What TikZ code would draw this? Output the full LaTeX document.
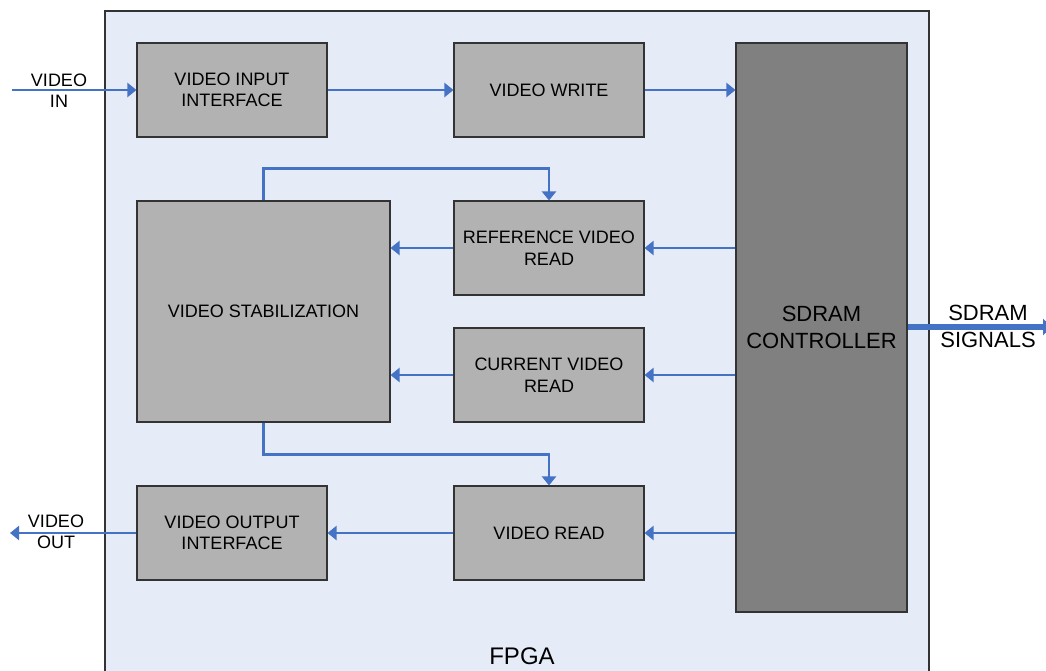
\documentclass[tikz,border=0pt]{standalone}
\usepackage{fontspec}
\setmainfont{Liberation Sans}
\usetikzlibrary{arrows.meta,calc}
\definecolor{fpgafill}{HTML}{E6ECF7}
\definecolor{blockfill}{HTML}{B2B2B2}
\definecolor{ctrlfill}{HTML}{808080}
\definecolor{edgegray}{HTML}{333333}
\definecolor{linkblue}{HTML}{4472C4}
\tikzset{
  block/.style={draw=edgegray, line width=1.1pt, fill=blockfill, minimum width=190pt,
    minimum height=94pt, inner sep=0pt, align=center,
    font=\fontsize{18}{21.5}\selectfont},
  ctrl/.style={block, fill=ctrlfill, minimum width=171pt, minimum height=569pt,
    font=\fontsize{22}{27}\selectfont},
  link/.style={draw=linkblue, line width=2.8pt,
    -{Triangle[length=9pt,width=14pt]}},
  biglink/.style={draw=linkblue, line width=5.5pt,
    -{Triangle[length=9pt,width=16pt]}},
  extlabel/.style={align=center, inner sep=0pt, font=\fontsize{18}{21}\selectfont},
}
\begin{document}
\begin{tikzpicture}[x=1pt,y=-1pt]
\useasboundingbox (0,0) rectangle (1046,670);
\clip (0,0) rectangle (1046,670);
% FPGA frame
\draw[draw=edgegray, line width=1.1pt, fill=fpgafill] (105,11) rectangle (929,690);
\node[font=\fontsize{24}{28}\selectfont, inner sep=0pt] (fpga) at (522,656) {FPGA};

% functional blocks
\node[block] (vii) at (232,90) {VIDEO INPUT\\INTERFACE};
\node[block] (vw) at (549,90) {VIDEO WRITE};
\node[ctrl] (sdram) at (821.5,327.5) {SDRAM\\CONTROLLER};
\node[block, minimum width=253pt, minimum height=221pt] (vs) at (263.5,311.5) {VIDEO STABILIZATION};
\node[block] (ref) at (549,248) {REFERENCE VIDEO\\READ};
\node[block] (cur) at (549,375) {CURRENT VIDEO\\READ};
\node[block] (voi) at (232,533) {VIDEO OUTPUT\\INTERFACE};
\node[block] (vr) at (549,533) {VIDEO READ};

% external labels and end points
\node[extlabel] (inlbl) at (59,91) {VIDEO\\IN};
\node[extlabel] (outlbl) at (56,532) {VIDEO\\OUT};
\node[extlabel, font=\fontsize{22}{27}\selectfont] (siglbl) at (988,326) {SDRAM\\SIGNALS};
\coordinate (vin) at (12,90);
\coordinate (vout) at (10,533);
\coordinate (sig) at (1052,327);

% data paths
\draw[link] (vin) -- (vii.west);
\draw[link] (vii.east) -- (vw.west);
\draw[link] (vw.east) -- (vw.east -| sdram.west);
\draw[link] (vs.north) -- ++(0,-32) -| (ref.north);
\draw[link] (ref.west) -- (ref.west -| vs.east);
\draw[link] (sdram.west |- ref.east) -- (ref.east);
\draw[link] (sdram.west |- cur.east) -- (cur.east);
\draw[link] (cur.west) -- (cur.west -| vs.east);
\draw[link] (vs.south) -- ++(0,32) -| (vr.north);
\draw[link] (sdram.west |- vr.east) -- (vr.east);
\draw[link] (vr.west) -- (voi.east);
\draw[link] (voi.west) -- (vout);
\draw[biglink] (sdram.east |- sig) -- (sig);
\end{tikzpicture}
\end{document}
